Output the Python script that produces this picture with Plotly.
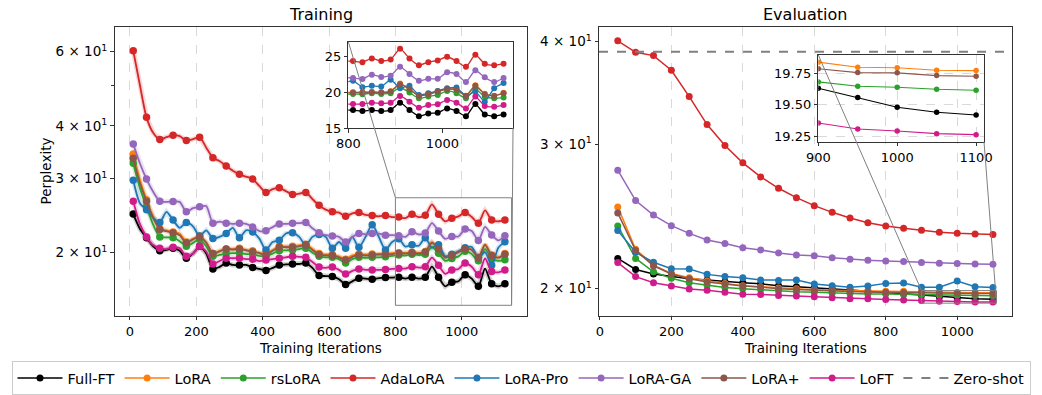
import math
import plotly.graph_objects as go

# ---------------- data ----------------
methods = ["Full-FT", "LoRA", "rsLoRA", "AdaLoRA", "LoRA-Pro", "LoRA-GA", "LoRA+", "LoFT"]
colors = ["#000000", "#ff7f0e", "#2ca02c", "#d62728", "#1f77b4", "#9467bd", "#8c564b", "#d01c8b"]

train_steps = list(range(10, 1131, 20))

train_fullft = [24.7, 22.8, 21.7, 20.7, 20.2, 20.3, 20.5, 20.2, 19.4, 19.9,
                20.7, 19.9, 18.3, 18.5, 18.9, 18.7, 18.7, 18.7, 18.45, 18.3,
                18.15, 18.4, 18.7, 18.75, 18.8, 18.8, 18.9, 18.4, 17.65, 17.6,
                17.55, 17.3, 16.8, 17.1, 17.4, 17.35, 17.3, 17.4, 17.45, 17.45,
                17.49, 17.35, 17.49, 17.35, 17.49, 18.52, 17.49, 16.64, 17.02, 17.11,
                17.72, 17.35, 16.64, 18.33, 16.88, 16.64, 16.88]
train_lora = [34.3, 29.8, 26.7, 24.4, 22.8, 22.6, 22.4, 22.2, 21.2, 21.6,
              21.9, 21.2, 19.9, 20.2, 20.4, 20.4, 20.5, 20.3, 20.2, 20.0,
              19.85, 20.3, 20.7, 20.7, 20.7, 20.8, 20.95, 20.4, 19.9, 19.8,
              19.8, 19.6, 19.3, 19.7, 19.85, 19.8, 19.85, 19.9, 19.9, 19.95,
              19.98, 19.98, 20.05, 19.98, 20.12, 21.2, 20.45, 19.5, 19.75, 20.1,
              20.45, 20.35, 19.5, 20.95, 19.75, 19.5, 19.9]
train_rslora = [32.6, 28.5, 25.7, 23.3, 21.8, 21.75, 21.7, 21.3, 20.7, 21.1,
                21.5, 20.7, 19.6, 19.75, 19.9, 19.95, 19.95, 19.85, 19.8, 19.65,
                19.6, 19.9, 20.2, 20.25, 20.3, 20.4, 20.5, 20.0, 19.6, 19.5,
                19.5, 19.3, 18.9, 19.3, 19.5, 19.45, 19.5, 19.5, 19.55, 19.65,
                19.74, 19.69, 19.84, 19.74, 19.84, 20.63, 19.93, 19.13, 19.37, 19.60,
                20.16, 19.84, 19.13, 20.40, 19.37, 19.13, 19.23]
train_adalora = [60.3, 50.0, 41.9, 38.5, 37.1, 37.6, 38.0, 37.8, 36.9, 37.2,
                 37.6, 35.5, 33.6, 33.0, 32.1, 31.3, 30.7, 30.3, 29.9, 28.8,
                 27.8, 28.3, 28.5, 28.0, 27.5, 27.6, 27.8, 26.8, 25.9, 25.3,
                 25.0, 24.9, 24.4, 24.8, 24.9, 24.6, 24.5, 24.4, 24.5, 24.3,
                 24.30, 24.15, 24.67, 24.30, 24.53, 26.03, 24.67, 23.73, 24.15, 24.39,
                 24.91, 24.30, 23.50, 25.19, 23.92, 23.73, 23.92]
train_lorapro = [29.7, 26.2, 25.3, 24.2, 23.6, 25.0, 23.9, 22.9, 23.6, 23.1,
                 21.9, 22.6, 21.6, 21.8, 22.2, 22.9, 21.7, 22.6, 22.4, 21.6,
                 20.3, 21.2, 21.4, 22.2, 22.3, 21.8, 20.85, 21.8, 22.1, 21.8,
                 20.5, 21.2, 20.5, 21.8, 20.6, 21.8, 23.3, 21.8, 20.3, 21.2,
                 21.57, 20.68, 20.87, 20.77, 21.71, 20.54, 20.87, 19.6, 19.84, 20.16,
                 20.54, 20.63, 19.46, 20.07, 18.66, 20.54, 21.24]
train_loraga = [36.2, 32.6, 29.9, 27.9, 26.5, 26.4, 26.45, 26.4, 25.0, 25.5,
                25.7, 25.8, 23.5, 23.7, 23.5, 23.4, 23.5, 23.4, 23.0, 22.5,
                22.55, 23.0, 23.4, 23.4, 23.5, 23.5, 23.6, 22.85, 22.3, 22.0,
                21.9, 21.8, 21.2, 21.8, 22.2, 22.1, 22.2, 22.2, 22.0, 22.0,
                21.95, 21.81, 22.42, 22.09, 22.28, 23.50, 22.51, 21.57, 21.85, 21.85,
                22.75, 22.51, 21.38, 23.03, 22.04, 21.38, 21.95]
train_loraplus = [33.5, 29.3, 26.5, 24.2, 22.7, 22.5, 22.3, 22.0, 21.1, 21.5,
                  21.8, 21.1, 19.9, 20.15, 20.4, 20.35, 20.4, 20.25, 20.1, 19.95,
                  19.75, 20.2, 20.6, 20.6, 20.6, 20.7, 20.85, 20.3, 19.8, 19.7,
                  19.7, 19.5, 19.2, 19.55, 19.75, 19.7, 19.75, 19.8, 19.8, 19.85,
                  19.93, 19.93, 19.98, 19.93, 20.07, 21.10, 20.40, 19.46, 19.69, 20.07,
                  20.40, 20.31, 19.46, 20.87, 19.69, 19.46, 19.84]
train_loft = [26.5, 23.4, 21.8, 20.85, 20.5, 20.4, 20.6, 20.5, 19.6, 19.9,
              20.7, 20.1, 18.8, 19.1, 19.4, 19.4, 19.4, 19.3, 19.3, 19.1,
              19.2, 19.3, 19.4, 19.5, 19.6, 19.55, 19.5, 19.0, 18.5, 18.4,
              18.5, 18.2, 17.8, 18.1, 18.3, 18.2, 18.2, 18.2, 18.25, 18.3,
              18.33, 18.33, 18.52, 18.43, 18.52, 19.46, 18.66, 17.82, 18.19, 18.29,
              18.90, 18.52, 17.72, 19.37, 18.05, 17.96, 18.19]

eval_steps = list(range(50, 1101, 50))
eval_fullft = [21.77, 21.11, 20.84, 20.69, 20.57, 20.49, 20.40, 20.34, 20.28, 20.17, 20.11,
               20.06, 20.00, 19.93, 19.85, 19.78, 19.70, 19.63, 19.556, 19.479, 19.439, 19.418]
eval_lora = [25.16, 22.34, 21.37, 20.87, 20.62, 20.44, 20.30, 20.17, 20.11, 20.04, 20.00,
             19.94, 19.91, 19.89, 19.87, 19.86, 19.85, 19.838, 19.798, 19.793, 19.774, 19.771]
eval_rslora = [23.85, 21.77, 20.97, 20.59, 20.34, 20.19, 20.07, 20.00, 19.94, 19.87, 19.83,
               19.80, 19.76, 19.73, 19.71, 19.70, 19.69, 19.681, 19.646, 19.638, 19.622, 19.614]
eval_adalora = [40.1, 38.83, 38.47, 36.92, 34.29, 31.70, 29.89, 28.47, 27.37, 26.51, 25.82,
                25.25, 24.78, 24.39, 24.07, 23.85, 23.69, 23.56, 23.43, 23.36, 23.32, 23.28]
eval_lorapro = [23.54, 22.15, 21.54, 21.15, 21.13, 20.82, 20.69, 20.63, 20.49, 20.47, 20.49,
                20.27, 20.17, 20.08, 20.15, 20.30, 20.32, 20.08, 20.08, 20.44, 20.11, 20.06]
eval_loraga = [27.89, 25.61, 24.59, 23.87, 23.36, 22.93, 22.70, 22.43, 22.30, 22.11, 21.99,
               21.93, 21.81, 21.72, 21.66, 21.62, 21.58, 21.52, 21.48, 21.46, 21.44, 21.42]
eval_loraplus = [24.74, 22.26, 21.33, 20.84, 20.57, 20.38, 20.26, 20.15, 20.09, 20.00, 19.96,
                 19.91, 19.87, 19.84, 19.82, 19.80, 19.79, 19.785, 19.755, 19.753, 19.731, 19.726]
eval_loft = [21.52, 20.69, 20.34, 20.15, 19.98, 19.91, 19.80, 19.69, 19.68, 19.62, 19.59,
             19.55, 19.50, 19.45, 19.44, 19.40, 19.37, 19.354, 19.306, 19.290, 19.269, 19.261]
zero_shot = 38.9

train_data = [train_fullft, train_lora, train_rslora, train_adalora,
              train_lorapro, train_loraga, train_loraplus, train_loft]
eval_data = [eval_fullft, eval_lora, eval_rslora, eval_adalora,
             eval_lorapro, eval_loraga, eval_loraplus, eval_loft]

left_yticks = [20, 30, 40, 60]
left_yticktext = ["2 × 10<sup>1</sup>", "3 × 10<sup>1</sup>", "4 × 10<sup>1</sup>", "6 × 10<sup>1</sup>"]
left_yminor = [50]
right_yticks = [20, 30, 40]
right_yticktext = ["2 × 10<sup>1</sup>", "3 × 10<sup>1</sup>", "4 × 10<sup>1</sup>"]

# ---------------- layout geometry ----------------
W, H = 1042, 395
FONT = "DejaVu Sans"

dx1 = [114.5 / W, 527.0 / W]
dx2 = [599.0 / W, 1011.7 / W]
dy = [(H - 315.7) / H, (H - 27.3) / H]
dx3 = [348.3 / W, 513.0 / W]
dy3 = [(H - 128.0) / H, (H - 41.7) / H]
dx4 = [818.3 / W, 984.0 / W]
dy4 = [(H - 141.7) / H, (H - 55.0) / H]

rx1 = [-46.5, 1196.5]
ry1 = [math.log10(14.17), math.log10(68.55)]
rx2 = [-2.5, 1152.5]
ry2 = [math.log10(18.54), math.log10(41.65)]
rx3 = [800, 1150]
ry3 = [15, 27]
rx4 = [900, 1110]
ry4 = [19.205, 19.895]


def xp(dom, rng, v):
    return dom[0] + (v - rng[0]) / (rng[1] - rng[0]) * (dom[1] - dom[0])


def yp_log(dom, rng, v):
    return dom[0] + (math.log10(v) - rng[0]) / (rng[1] - rng[0]) * (dom[1] - dom[0])


fig = go.Figure()

# ---------------- training (left) ----------------
for name, col, vals in zip(methods, colors, train_data):
    fig.add_trace(go.Scatter(x=train_steps, y=vals, mode="lines", xaxis="x", yaxis="y",
                             line=dict(color=col, width=5), opacity=0.18,
                             showlegend=False, hoverinfo="skip"))
for name, col, vals in zip(methods, colors, train_data):
    fig.add_trace(go.Scatter(x=train_steps, y=vals, mode="lines", xaxis="x", yaxis="y",
                             line=dict(color=col, width=1.8, shape="spline", smoothing=0.7),
                             showlegend=False))
    fig.add_trace(go.Scatter(x=train_steps[::2], y=vals[::2], mode="markers", xaxis="x", yaxis="y",
                             marker=dict(color=col, size=7.5, line=dict(width=0)),
                             showlegend=False))
# left inset
for name, col, vals in zip(methods, colors, train_data):
    fig.add_trace(go.Scatter(x=train_steps, y=vals, mode="lines+markers", xaxis="x3", yaxis="y3",
                             line=dict(color=col, width=1.3, shape="spline", smoothing=0.5),
                             marker=dict(color=col, size=6, line=dict(width=0)),
                             showlegend=False))

# ---------------- evaluation (right) ----------------
for name, col, vals in zip(methods, colors, eval_data):
    fig.add_trace(go.Scatter(x=eval_steps, y=vals, mode="lines+markers", xaxis="x2", yaxis="y2",
                             name=name, line=dict(color=col, width=1.5),
                             marker=dict(color=col, size=7, line=dict(width=0)),
                             showlegend=True))
for name, col, vals in zip(methods, colors, eval_data):
    fig.add_trace(go.Scatter(x=eval_steps, y=vals, mode="lines+markers", xaxis="x4", yaxis="y4",
                             line=dict(color=col, width=1.1),
                             marker=dict(color=col, size=5.5, line=dict(width=0)),
                             showlegend=False))
# legend entry for zero-shot
fig.add_trace(go.Scatter(x=[None], y=[None], mode="lines", xaxis="x2", yaxis="y2",
                         name="Zero-shot", line=dict(color="#808080", width=2, dash="dash")))

shapes = []
# zero-shot line
yz = yp_log(dy, ry2, zero_shot)
shapes.append(dict(type="line", xref="paper", yref="paper", x0=dx2[0], x1=dx2[1], y0=yz, y1=yz,
                   line=dict(color="#808080", width=2, dash="dash"), layer="above"))

# inset indicator rectangles + connectors
GR = "#808080"
r1 = dict(x0=xp(dx1, rx1, rx3[0]), x1=xp(dx1, rx1, rx3[1]),
          y0=yp_log(dy, ry1, ry3[0]), y1=yp_log(dy, ry1, ry3[1]))
shapes.append(dict(type="rect", xref="paper", yref="paper", line=dict(color=GR, width=1), **r1))
shapes.append(dict(type="line", xref="paper", yref="paper", x0=dx3[0], y0=dy3[1], x1=r1["x0"], y1=r1["y1"],
                   line=dict(color=GR, width=1), layer="above"))
shapes.append(dict(type="line", xref="paper", yref="paper", x0=dx3[1], y0=dy3[0], x1=r1["x1"], y1=r1["y0"],
                   line=dict(color=GR, width=1), layer="above"))

r2 = dict(x0=xp(dx2, rx2, rx4[0]), x1=xp(dx2, rx2, rx4[1]),
          y0=yp_log(dy, ry2, ry4[0]), y1=yp_log(dy, ry2, ry4[1]))
shapes.append(dict(type="rect", xref="paper", yref="paper", line=dict(color=GR, width=1), **r2))
shapes.append(dict(type="line", xref="paper", yref="paper", x0=dx4[0], y0=dy4[1], x1=r2["x0"], y1=r2["y1"],
                   line=dict(color=GR, width=1), layer="above"))
shapes.append(dict(type="line", xref="paper", yref="paper", x0=dx4[1], y0=dy4[0], x1=r2["x1"], y1=r2["y0"],
                   line=dict(color=GR, width=1), layer="above"))

tickfont = dict(family=FONT, size=13, color="black")
ytickfont = dict(family=FONT, size=13.5, color="black")
SP = "#333333"
GRID = "rgba(170,170,170,0.45)"

common = dict(showline=True, mirror=True, linecolor=SP, linewidth=1, ticks="outside", ticklen=3.5,
              tickcolor=SP, zeroline=False, automargin=False)

annotations = [
    dict(text="Training", x=(dx1[0] + dx1[1]) / 2, y=(H - 15) / H, xref="paper", yref="paper",
         showarrow=False, font=dict(family=FONT, size=16, color="black"), xanchor="center", yanchor="middle"),
    dict(text="Evaluation", x=(dx2[0] + dx2[1]) / 2, y=(H - 15) / H, xref="paper", yref="paper",
         showarrow=False, font=dict(family=FONT, size=16, color="black"), xanchor="center", yanchor="middle"),
    dict(text="Training Iterations", x=(dx1[0] + dx1[1]) / 2, y=(H - 348) / H, xref="paper", yref="paper",
         showarrow=False, font=dict(family=FONT, size=13.5, color="black"), xanchor="center", yanchor="middle"),
    dict(text="Training Iterations", x=(dx2[0] + dx2[1]) / 2, y=(H - 348) / H, xref="paper", yref="paper",
         showarrow=False, font=dict(family=FONT, size=13.5, color="black"), xanchor="center", yanchor="middle"),
    dict(text="Perplexity", x=45 / W, y=(dy[0] + dy[1]) / 2, xref="paper", yref="paper", textangle=-90,
         showarrow=False, font=dict(family=FONT, size=13.5, color="black"), xanchor="center", yanchor="middle"),
]

fig.update_layout(
    width=W, height=H,
    margin=dict(l=0, r=0, t=0, b=0),
    paper_bgcolor="white", plot_bgcolor="rgba(0,0,0,0)",
    font=dict(family=FONT, size=13, color="black"),
    shapes=shapes, annotations=annotations,
    xaxis=dict(domain=dx1, range=rx1, anchor="y", tick0=0, dtick=200, tickfont=tickfont,
               showgrid=True, gridcolor=GRID, griddash="dash", gridwidth=1, **common),
    yaxis=dict(domain=dy, type="log", range=ry1, anchor="x", tickvals=left_yticks, ticktext=left_yticktext,
               tickfont=ytickfont, showgrid=False,
               minor=dict(tickvals=left_yminor, ticks="outside", ticklen=2.5, tickcolor=SP, showgrid=False),
               **common),
    xaxis2=dict(domain=dx2, range=rx2, anchor="y2", tick0=0, dtick=200, tickfont=tickfont,
                showgrid=True, gridcolor=GRID, griddash="dash", gridwidth=1, **common),
    yaxis2=dict(domain=dy, type="log", range=ry2, anchor="x2", tickvals=right_yticks, ticktext=right_yticktext,
                tickfont=ytickfont, showgrid=False, **common),
    xaxis3=dict(domain=dx3, range=rx3, anchor="y3", tickvals=[800, 1000], tickfont=tickfont,
                showgrid=False, **common),
    yaxis3=dict(domain=dy3, range=ry3, anchor="x3", tickvals=[15, 20, 25], tickfont=tickfont,
                showgrid=False, **common),
    xaxis4=dict(domain=dx4, range=rx4, anchor="y4", tickvals=[900, 1000, 1100], tickfont=tickfont,
                showgrid=True, gridcolor=GRID, griddash="dash", gridwidth=1, **common),
    yaxis4=dict(domain=dy4, range=ry4, anchor="x4", tickvals=[19.25, 19.5, 19.75], tickformat=".2f",
                tickfont=tickfont, showgrid=True, gridcolor=GRID, griddash="dash", gridwidth=1, **common),
    legend=dict(orientation="h", x=0.5, xanchor="center", y=0.0, yanchor="bottom",
                font=dict(family=FONT, size=14.5, color="black"), bgcolor="white",
                bordercolor="#cccccc", borderwidth=1, itemwidth=45, tracegroupgap=0),
)

fig.write_html("out.html", config={"displayModeBar": False},
               post_script="document.body.style.margin='0px';")
